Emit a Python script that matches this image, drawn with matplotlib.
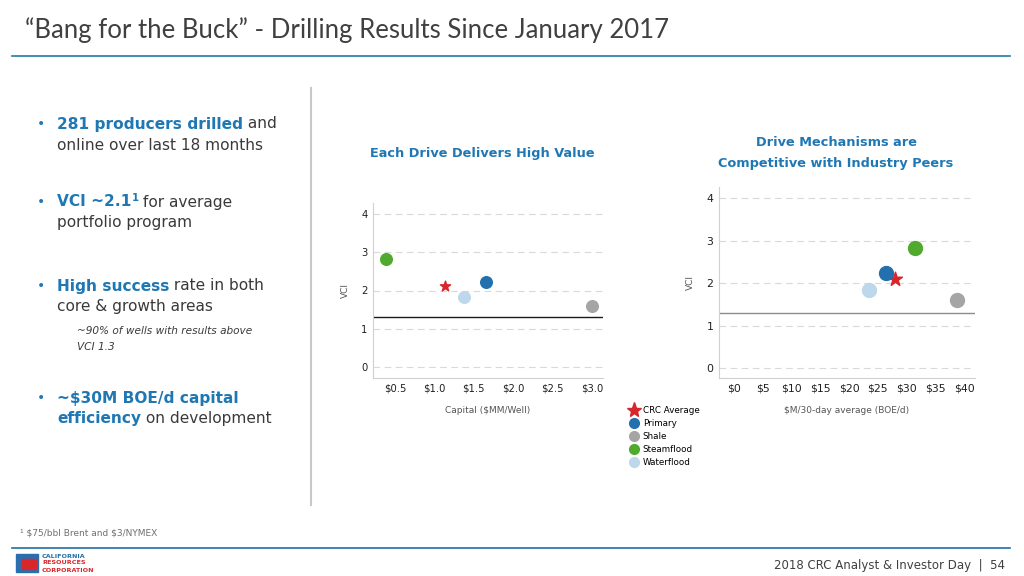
import matplotlib
matplotlib.use("Agg")
import matplotlib.pyplot as plt
from matplotlib.lines import Line2D

# data
drives = ["CRC Average", "Primary", "Shale", "Steamflood", "Waterflood"]
capital_mm = [1.14, 1.655, 3.0, 0.39, 1.375]          # $MM/well
vci_left = [2.12, 2.23, 1.60, 2.82, 1.84]
cost_boe = [28.0, 26.5, 38.7, 31.5, 23.4]             # $M per 30-day avg BOE/d
vci_right = [2.10, 2.23, 1.60, 2.82, 1.84]
vci_threshold = 1.3

left_xticks = [0.5, 1.0, 1.5, 2.0, 2.5, 3.0]
right_xticks = [0, 5, 10, 15, 20, 25, 30, 35, 40]
yticks = [0, 1, 2, 3, 4]

colors = {"CRC Average": "#D9262B", "Primary": "#2270AE", "Shale": "#A5A5A5",
          "Steamflood": "#4FAA2D", "Waterflood": "#BDD8EA"}

BLUE = "#1F78B4"
DARK = "#3A3A3A"
W, H = 1024, 576


def fx(px):
    return px / W


def fy(py):
    return 1 - py / H


fig = plt.figure(figsize=(10.24, 5.76), dpi=100)
fig.patch.set_facecolor("white")
renderer = fig.canvas.get_renderer()


def draw_runs(x_px, y_px, runs, size):
    # draws pieces of text one after another on the same line
    x = fx(x_px)
    for text, color, weight, style, dy, rel in runs:
        t = fig.text(x, fy(y_px - dy), text, color=color, fontsize=size * rel,
                     fontweight=weight, fontstyle=style, va="center", ha="left",
                     family="DejaVu Sans")
        bb = t.get_window_extent(renderer)
        x += bb.width / W


# page title and rules
fig.text(fx(25), fy(30), "\u201cBang for the Buck\u201d - Drilling Results Since January 2017",
         fontsize=18.5, color="#404040", va="center", family="Lato")
fig.add_artist(Line2D([fx(12), fx(1010)], [fy(56), fy(56)], color="#1F7AA8", lw=1.2))
fig.add_artist(Line2D([fx(12), fx(1010)], [fy(548), fy(548)], color="#1F6FA8", lw=1.2))
fig.add_artist(Line2D([fx(311), fx(311)], [fy(88), fy(505)], color="#C8C8C8", lw=1.5))

# bullets
size = 11.1
bullets = [
    (124, [("281 producers drilled", BLUE, "bold", "normal", 0, 1), (" and", DARK, "normal", "normal", 0, 1)]),
    (145, [("online over last 18 months", DARK, "normal", "normal", 0, 1)]),
    (202, [("VCI ~2.1", BLUE, "bold", "normal", 0, 1), ("1", BLUE, "bold", "normal", 4, 0.65),
           (" for average", DARK, "normal", "normal", 0, 1)]),
    (223, [("portfolio program", DARK, "normal", "normal", 0, 1)]),
    (286, [("High success", BLUE, "bold", "normal", 0, 1), (" rate in both", DARK, "normal", "normal", 0, 1)]),
    (307, [("core & growth areas", DARK, "normal", "normal", 0, 1)]),
    (398, [("~$30M BOE/d capital", BLUE, "bold", "normal", 0, 1)]),
    (419, [("efficiency", BLUE, "bold", "normal", 0, 1), (" on development", DARK, "normal", "normal", 0, 1)]),
]
for y_px, runs in bullets:
    draw_runs(57, y_px, runs, size)
for y_px in [124, 202, 286, 398]:
    fig.text(fx(37), fy(y_px), "\u2022", color=BLUE, fontsize=10, va="center", ha="left")

fig.text(fx(77), fy(331), "~90% of wells with results above", fontsize=7.6, style="italic",
         color=DARK, va="center")
fig.text(fx(77), fy(347), "VCI 1.3", fontsize=7.6, style="italic", color=DARK, va="center")

# footnote and footer
fig.text(fx(20), fy(533), "\u00b9 $75/bbl Brent and $3/NYMEX", parse_math=False,
         fontsize=6.5, color="#707070", va="center", family="Liberation Sans Narrow")
fig.text(fx(1005), fy(565), "2018 CRC Analyst & Investor Day  |  54", fontsize=8.5,
         color="#404040", va="center", ha="right", family="Liberation Sans Narrow")
fig.text(fx(42), fy(556), "CALIFORNIA", fontsize=4.6, color="#1F6FA8", va="center", weight="bold")
fig.text(fx(42), fy(563), "RESOURCES", fontsize=4.6, color="#D9262B", va="center", weight="bold")
fig.text(fx(42), fy(570), "CORPORATION", fontsize=4.6, color="#D9262B", va="center", weight="bold")
fig.add_artist(plt.Rectangle((fx(16), fy(572)), fx(22), 18 / H, color="#2A6EB0"))
fig.add_artist(plt.Rectangle((fx(22), fy(569)), fx(14), 10 / H, color="#D9262B"))


def style_axes(ax, xticks, xlabels, xlabel, tsize):
    ax.set_yticks(yticks)
    ax.set_xticks(xticks)
    ax.set_xticklabels(xlabels)
    ax.grid(axis="y", color="#D9D9D9", linestyle=(0, (6, 4)), lw=0.8)
    ax.set_axisbelow(True)
    for s in ["top", "right"]:
        ax.spines[s].set_visible(False)
    for s in ["left", "bottom"]:
        ax.spines[s].set_color("#D0D0D0")
    ax.tick_params(length=0, labelsize=tsize, colors="#202020", pad=4)
    ax.set_ylabel("VCI", fontsize=6.5, color="#555555", labelpad=8)
    ax.set_xlabel(xlabel, fontsize=6.5, color="#555555", labelpad=9)


# left chart
ax1 = fig.add_axes([fx(373), fy(378), fx(603 - 373), (378 - 203) / H])
ax1.set_xlim(0.22, 3.14)
ax1.set_ylim(-0.3, 4.3)
ax1.axhline(vci_threshold, color="#1A1A1A", lw=1.0)
for i, d in enumerate(drives):
    if d == "CRC Average":
        ax1.scatter(capital_mm[i], vci_left[i], marker="*", s=60, color=colors[d], zorder=3)
    else:
        ax1.scatter(capital_mm[i], vci_left[i], marker="o", s=70, color=colors[d], zorder=3)
style_axes(ax1, left_xticks, ["$%.1f" % v for v in left_xticks], "Capital ($MM/Well)", 7.2)
fig.text(fx(482), fy(153), "Each Drive Delivers High Value", fontsize=9.3, weight="bold",
         color=BLUE, ha="center", va="center")

# right chart
ax2 = fig.add_axes([fx(719), fy(378), fx(975 - 719), (378 - 187) / H])
ax2.set_xlim(-2.6, 41.9)
ax2.set_ylim(-0.23, 4.26)
ax2.axhline(vci_threshold, color="#8C8C8C", lw=1.0)
for i, d in enumerate(drives):
    if d == "CRC Average":
        ax2.scatter(cost_boe[i], vci_right[i], marker="*", s=110, color=colors[d], zorder=3)
    else:
        ax2.scatter(cost_boe[i], vci_right[i], marker="o", s=100, color=colors[d], zorder=3)
style_axes(ax2, right_xticks, ["$%d" % v for v in right_xticks], "$M/30-day average (BOE/d)", 7.8)
fig.text(fx(836), fy(143), "Drive Mechanisms are", fontsize=9.3, weight="bold",
         color=BLUE, ha="center", va="center")
fig.text(fx(836), fy(163), "Competitive with Industry Peers", fontsize=9.3, weight="bold",
         color=BLUE, ha="center", va="center")

# legend
handles = [Line2D([], [], marker="*" if d == "CRC Average" else "o", linestyle="none",
                  markersize=11 if d == "CRC Average" else 7, color=colors[d]) for d in drives]
fig.legend(handles, drives, loc="upper left", bbox_to_anchor=(fx(630), fy(406)),
           frameon=False, fontsize=6.3, handletextpad=0.45, labelspacing=0.45,
           borderpad=0, handlelength=1.0, borderaxespad=0)

fig.savefig("out.png", dpi=100, facecolor="white")
